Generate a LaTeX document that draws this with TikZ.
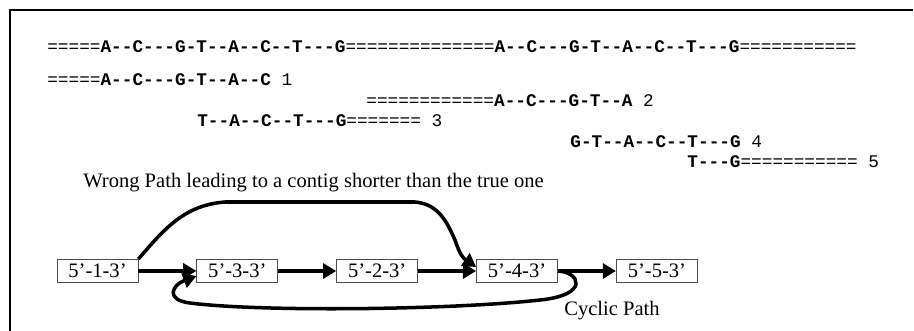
\documentclass[tikz,border=0pt]{standalone}
\usepackage{fontspec}
\setmainfont{Liberation Serif}
\setmonofont{Liberation Mono}
\usetikzlibrary{arrows.meta,positioning}
\tikzset{
    %Define standard arrow tip
    >={Triangle[length=7.5pt,width=8.5pt]},
    %Define style for contig boxes
    contig/.style={
           rectangle,
           draw=black!70, line width=0.5pt,
           minimum width=1.62cm,
           minimum height=0.46cm,
           inner sep=0pt,
           font=\fontsize{11.7}{13}\selectfont,
           text centered},
    %Define style for the reads
    seq/.style={
           anchor=west,
           inner sep=0pt,
           font=\ttfamily\fontsize{10.1}{12}\selectfont},
    lbl/.style={
           anchor=west,
           inner sep=0pt,
           font=\fontsize{11.7}{13}\selectfont},
    % Define arrow style
    pil/.style={
           ->,
           line width=2pt}
}
\newcommand{\nt}[1]{\textbf{#1}}

\begin{document}
\begin{tikzpicture}[x=0.02cm,y=-0.02cm,node distance=1.16cm]
\useasboundingbox (0,0) rectangle (914,331);
\draw[line width=1.4pt] (10,331) -- (10,10) -- (913,10);
% genome and reads
\node[seq](g) at (47,47){=====\nt{A--C---G-T--A--C--T---G}==============\nt{A--C---G-T--A--C--T---G}===========};
\node[seq](r1) at (47,80){=====\nt{A--C---G-T--A--C} 1};
\node[seq](r2) at (366,101){============\nt{A--C---G-T--A} 2};
\node[seq](r3) at (197,121){\nt{T--A--C--T---G}======= 3};
\node[seq](r4) at (570,142){\nt{G-T--A--C--T---G} 4};
\node[seq](r5) at (687,162){\nt{T---G}=========== 5};
% overlap graph
\node[lbl](wrong) at (83,183){Wrong Path leading to a contig shorter than the true one};
\node[contig](c1) at (97.5,271){5’-1-3’};
\node[contig,right=of c1](c2){5’-3-3’};
\node[contig,right=of c2](c3){5’-2-3’};
\node[contig,right=of c3](c4){5’-4-3’};
\node[contig,right=of c4](c5){5’-5-3’};
\node[lbl](cyc) at (564,311){Cyclic Path};
\path[pil]
	(c1) edge (c2)
	(c2) edge (c3)
	(c3) edge (c4)
	(c4) edge (c5);
\draw[pil] (c1.north east) .. controls (165,228) and (185,205) .. (225,202) -- (415,202)
	.. controls (440,204) and (448,225) .. (455,240) .. controls (460,255) and (463,258) .. ([yshift=0.08cm]c4.west);
\draw[pil] (c4.east) .. controls (580,272) and (590,295) .. (540,300)
	.. controls (450,310) and (260,312) .. (190,303) .. controls (165,300) and (172,285) .. ([yshift=-0.1cm]c2.west);
\end{tikzpicture}
\end{document}
